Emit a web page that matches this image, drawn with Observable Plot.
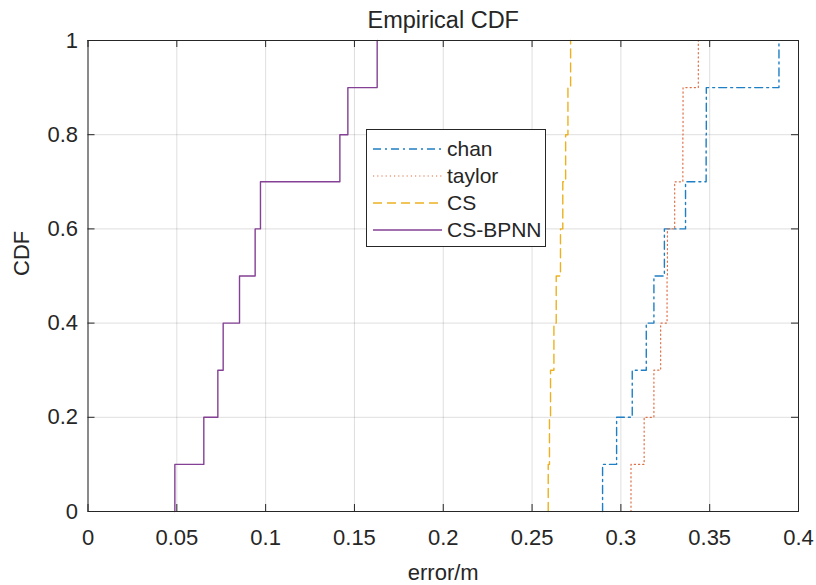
<!DOCTYPE html>
<html>
<head>
<meta charset="utf-8">
<script src="https://cdn.jsdelivr.net/npm/d3@7"></script>
<script src="https://cdn.jsdelivr.net/npm/@observablehq/plot@0.6"></script>
<style>
  html, body { margin: 0; padding: 0; background: #fff; }
  #wrap { position: relative; width: 816px; height: 585px; font-family: "Liberation Sans", Arial, Helvetica, sans-serif; color: #262626; }
  #legend { position: absolute; left: 366px; top: 129px; width: 180px; height: 118px; border: 1px solid #262626; background: #fff; box-sizing: border-box; }
  .entry { position: absolute; left: 0; height: 27px; display: flex; align-items: center; font-size: 21px; }
  .entry svg { margin-left: 6px; margin-right: 5px; }
</style>
</head>
<body>
<div id="wrap"></div>
<script>
// ---- data (sample errors in metres) ----
const seriesNames = ["chan", "taylor", "CS", "CS-BPNN"];
const chan   = [0.2897, 0.2976, 0.3064, 0.3143, 0.3186, 0.3245, 0.3364, 0.3480, 0.3481, 0.3890];
const taylor = [0.3057, 0.3131, 0.3186, 0.3224, 0.3260, 0.3262, 0.3303, 0.3349, 0.3350, 0.3436];
const cs     = [0.2591, 0.2598, 0.2604, 0.2623, 0.2636, 0.2660, 0.2673, 0.2689, 0.2702, 0.2717];
const csBpnn = [0.0489, 0.0652, 0.0731, 0.0761, 0.0853, 0.0941, 0.0971, 0.1418, 0.1463, 0.1628];
const xTicks = [0, 0.05, 0.1, 0.15, 0.2, 0.25, 0.3, 0.35, 0.4];
const yTicks = [0, 0.2, 0.4, 0.6, 0.8, 1];
const titleText = "Empirical CDF";
const xLabel = "error/m";
const yLabel = "CDF";

// ---- styles ----
const colors = ["#1f7fc4", "#de7048", "#EDB120", "#844094"];
const dashes = ["8,4,2,4", "1.2,3", "9,5", null];
const widths = [1.4, 1.2, 1.4, 1.4];
const samples = [chan, taylor, cs, csBpnn];

function ecdf(values, name) {
  const s = values.slice().sort((a, b) => a - b);
  const n = s.length;
  const pts = [{x: s[0], y: 0, series: name}];
  s.forEach((v, i) => pts.push({x: v, y: (i + 1) / n, series: name}));
  return pts;
}

const W = 816, H = 585;
const mL = 87.5, mR = 18, mT = 40, mB = 74;
const innerW = W - mL - mR, innerH = H - mT - mB;
const tick = 7;
const ink = "#262626";

const lineMarks = samples.map((vals, i) =>
  Plot.line(ecdf(vals, seriesNames[i]), {
    x: "x", y: "y", curve: "step-after",
    stroke: colors[i], strokeWidth: widths[i],
    strokeDasharray: dashes[i] ?? undefined
  })
);

const chart = Plot.plot({
  width: W, height: H,
  marginLeft: mL, marginRight: mR, marginTop: mT, marginBottom: mB,
  style: {fontFamily: '"Liberation Sans", Arial, Helvetica, sans-serif', fontSize: "22px", color: ink, background: "#fff"},
  x: {domain: [0, 0.4]},
  y: {domain: [0, 1]},
  marks: [
    Plot.gridX(xTicks, {stroke: "#000", strokeOpacity: 0.13}),
    Plot.gridY(yTicks, {stroke: "#000", strokeOpacity: 0.13}),
    ...lineMarks,
    Plot.tickX(xTicks, {x: d => d, insetTop: innerH - tick, stroke: ink}),
    Plot.tickX(xTicks, {x: d => d, insetBottom: innerH - tick, stroke: ink}),
    Plot.tickY(yTicks, {y: d => d, insetRight: innerW - tick, stroke: ink}),
    Plot.tickY(yTicks, {y: d => d, insetLeft: innerW - tick, stroke: ink}),
    Plot.frame({stroke: ink, strokeWidth: 1}),
    Plot.axisX(xTicks, {tickSize: 0, tickPadding: 18, tickFormat: d => String(d), label: null, fontSize: 22, fill: ink}),
    Plot.axisY(yTicks, {tickSize: 0, tickPadding: 10, tickFormat: d => String(d), label: null, fontSize: 22, fill: ink}),
    Plot.text([titleText], {text: d => d, frameAnchor: "top", dy: -20, lineAnchor: "middle", fontSize: 23.5, fill: ink}),
    Plot.text([xLabel], {text: d => d, frameAnchor: "bottom", dy: 61, lineAnchor: "middle", fontSize: 22, fill: ink}),
    Plot.text([yLabel], {text: d => d, frameAnchor: "left", dx: -66, rotate: -90, lineAnchor: "middle", fontSize: 22, fill: ink})
  ]
});

const wrap = document.getElementById("wrap");
wrap.appendChild(chart);

// ---- legend ----
const legend = document.createElement("div");
legend.id = "legend";
seriesNames.forEach((name, i) => {
  const row = document.createElement("div");
  row.className = "entry";
  row.style.top = (5 + i * 27) + "px";
  const svgNS = "http://www.w3.org/2000/svg";
  const svg = document.createElementNS(svgNS, "svg");
  svg.setAttribute("width", "69");
  svg.setAttribute("height", "10");
  const ln = document.createElementNS(svgNS, "line");
  ln.setAttribute("x1", "0"); ln.setAttribute("x2", "69");
  ln.setAttribute("y1", "5"); ln.setAttribute("y2", "5");
  ln.setAttribute("stroke", colors[i]);
  ln.setAttribute("stroke-width", String(widths[i]));
  if (dashes[i]) ln.setAttribute("stroke-dasharray", dashes[i]);
  svg.appendChild(ln);
  const label = document.createElement("span");
  label.textContent = name;
  row.appendChild(svg);
  row.appendChild(label);
  legend.appendChild(row);
});
wrap.appendChild(legend);
</script>
</body>
</html>
